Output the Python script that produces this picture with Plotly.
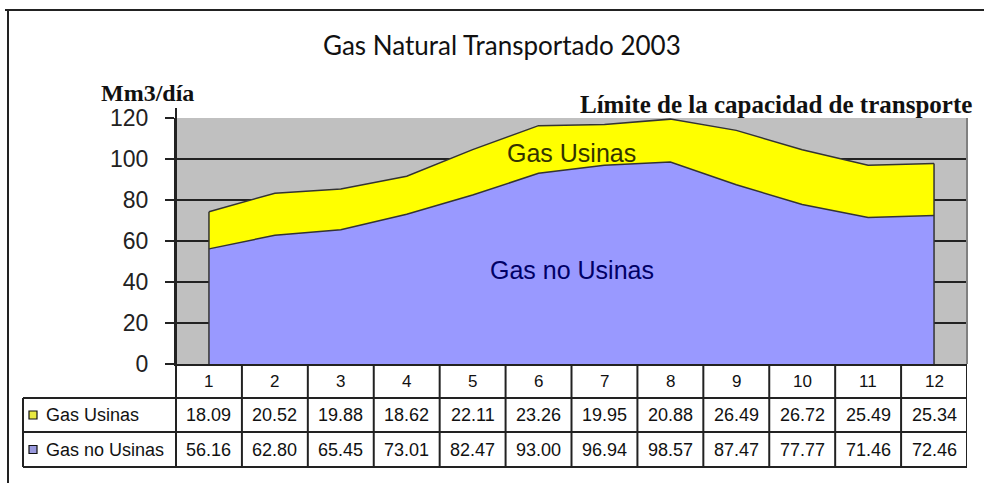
import plotly.graph_objects as go

# ---------------- data ----------------
months = [1, 2, 3, 4, 5, 6, 7, 8, 9, 10, 11, 12]
month_labels = ["1", "2", "3", "4", "5", "6", "7", "8", "9", "10", "11", "12"]
gas_usinas = [18.09, 20.52, 19.88, 18.62, 22.11, 23.26, 19.95, 20.88, 26.49, 26.72, 25.49, 25.34]
gas_no_usinas = [56.16, 62.80, 65.45, 73.01, 82.47, 93.00, 96.94, 98.57, 87.47, 77.77, 71.46, 72.46]
series_names = ["Gas Usinas", "Gas no Usinas"]
y_ticks = [0, 20, 40, 60, 80, 100, 120]

W, H = 984, 483


def px(x):
    return x / W


def py(y):
    return (H - y) / H


SANS = "Liberation Sans, Arial, sans-serif"
SERIF = "Liberation Serif, Times New Roman, serif"
LINE = "#222222"

fig = go.Figure()

# stacked areas
fig.add_trace(go.Scatter(x=months, y=gas_no_usinas, stackgroup="one", mode="lines",
                         fillcolor="#9999FF", line=dict(color="#333333", width=1.5),
                         name=series_names[1], hoverinfo="x+y"))
fig.add_trace(go.Scatter(x=months, y=gas_usinas, stackgroup="one", mode="lines",
                         fillcolor="#FFFF00", line=dict(color="#333333", width=1.5),
                         name=series_names[0], hoverinfo="x+y"))

# vertical outline of area ends (from data)
totals = [a + b for a, b in zip(gas_usinas, gas_no_usinas)]
fig.add_trace(go.Scatter(x=[months[0], months[0], None, months[-1], months[-1]],
                         y=[0, totals[0], None, 0, totals[-1]],
                         mode="lines", line=dict(color="#333333", width=1.5),
                         hoverinfo="skip", showlegend=False))

x_dom = [px(176), px(967)]
y_dom = [py(364), py(118)]

fig.update_layout(
    width=W, height=H,
    margin=dict(l=0, r=0, t=0, b=0, pad=0, autoexpand=False),
    paper_bgcolor="white",
    plot_bgcolor="#C0C0C0",
    showlegend=False,
    xaxis=dict(range=[0.5, 12.5], domain=x_dom, showticklabels=False, showgrid=False,
               zeroline=False, showline=True, linecolor=LINE, linewidth=2, ticks="",
               automargin=False, fixedrange=True),
    yaxis=dict(range=[0, 120], domain=y_dom, tickvals=y_ticks, ticks="outside", ticklen=9,
               tickwidth=2, tickcolor=LINE, showgrid=True, gridcolor=LINE, gridwidth=1.5,
               zeroline=False, showline=True, linecolor=LINE, linewidth=2,
               tickfont=dict(family=SANS, size=23, color="#222222"),
               ticklabelstandoff=12, automargin=False, fixedrange=True),
)

shapes = []
# outer frame (top and left)
shapes.append(dict(type="line", xref="paper", yref="paper", x0=px(5), x1=1, y0=py(10), y1=py(10),
                   line=dict(color=LINE, width=2)))
shapes.append(dict(type="line", xref="paper", yref="paper", x0=px(8), x1=px(8), y0=py(10), y1=0,
                   line=dict(color=LINE, width=2)))
# right edge of plot area
shapes.append(dict(type="line", xref="paper", yref="paper", x0=px(967), x1=px(967), y0=py(364), y1=py(118),
                   line=dict(color="#808080", width=2)))
# y axis line extended
shapes.append(dict(type="line", xref="paper", yref="paper", x0=px(176), x1=px(176), y0=py(467), y1=py(108),
                   line=dict(color=LINE, width=2)))

# table geometry
t_top, t_r1, t_r2, t_bot = 364, 398, 432, 467
t_left = 23
for i in range(len(months) + 1):
    xb = i + 0.5
    shapes.append(dict(type="line", xref="x", yref="paper", x0=xb, x1=xb, y0=py(t_bot), y1=py(t_top),
                       line=dict(color=LINE, width=2)))
for yy in (t_r1, t_r2, t_bot):
    shapes.append(dict(type="line", xref="paper", yref="paper", x0=px(t_left), x1=px(967), y0=py(yy), y1=py(yy),
                       line=dict(color=LINE, width=2)))
shapes.append(dict(type="line", xref="paper", yref="paper", x0=px(t_left), x1=px(t_left), y0=py(t_bot), y1=py(t_r1),
                   line=dict(color=LINE, width=2)))

# legend squares
row_centers = [(t_r1 + t_r2) / 2, (t_r2 + t_bot) / 2]
sq_colors = ["#E8E840", "#9999DD"]
for yc, c in zip(row_centers, sq_colors):
    shapes.append(dict(type="rect", xref="paper", yref="paper", x0=px(29), x1=px(37),
                       y0=py(yc + 4), y1=py(yc - 4), fillcolor=c, line=dict(color="#111111", width=1.2)))

fig.update_layout(shapes=shapes)

ann = []
# title
ann.append(dict(text="Gas Natural Transportado 2003", xref="paper", yref="paper", x=px(502), y=py(45),
                showarrow=False, font=dict(family="Lato, sans-serif", size=26, color="#111111"),
                xanchor="center", yanchor="middle"))
ann.append(dict(text="<b>Mm3/día</b>", xref="paper", yref="paper", x=px(99), y=py(93),
                showarrow=False, font=dict(family=SERIF, size=24, color="#111111"),
                xanchor="left", yanchor="middle"))
ann.append(dict(text="<b>Límite de la capacidad de transporte</b>", xref="paper", yref="paper",
                x=px(974), y=py(104), showarrow=False, font=dict(family=SERIF, size=25, color="#111111"),
                xanchor="right", yanchor="middle"))
# in-area labels
ann.append(dict(text=series_names[0], x=6.5, y=103, xref="x", yref="y", showarrow=False,
                font=dict(family=SANS, size=25, color="#333300")))
ann.append(dict(text=series_names[1], x=6.5, y=46, xref="x", yref="y", showarrow=False,
                font=dict(family=SANS, size=25, color="#000066")))

# table text
hdr_c = (t_top + t_r1) / 2
for m, lab in zip(months, month_labels):
    ann.append(dict(text=lab, x=m, y=py(hdr_c), xref="x", yref="paper", showarrow=False,
                    yanchor="middle", font=dict(family=SANS, size=17, color="#111111")))
for row_vals, yc in zip([gas_usinas, gas_no_usinas], row_centers):
    for m, v in zip(months, row_vals):
        ann.append(dict(text=f"{v:.2f}", x=m, y=py(yc), xref="x", yref="paper", showarrow=False,
                        yanchor="middle", font=dict(family=SANS, size=18, color="#111111")))
for name, yc in zip(series_names, row_centers):
    ann.append(dict(text=name, x=px(44), y=py(yc), xref="paper", yref="paper", showarrow=False,
                    xanchor="left", yanchor="middle", font=dict(family=SANS, size=18, color="#111111")))

fig.update_layout(annotations=ann)

fig.write_html("out.html", config={"displayModeBar": False},
               post_script="document.body.style.margin='0';document.body.style.overflow='hidden';")
